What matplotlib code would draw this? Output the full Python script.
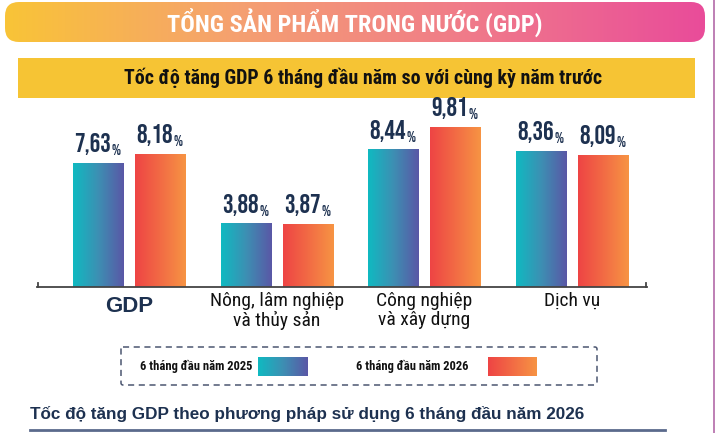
import numpy as np
import matplotlib
matplotlib.use("Agg")
import matplotlib.pyplot as plt
import matplotlib.patches as patches
import matplotlib.transforms as mtransforms
from matplotlib import font_manager as fm
from matplotlib.colors import LinearSegmentedColormap

# data
categories = ["GDP", "Nông, lâm nghiệp\nvà thủy sản", "Công nghiệp\nvà xây dựng", "Dịch vụ"]
growth_2025 = [7.63, 3.88, 8.44, 8.36]
growth_2026 = [8.18, 3.87, 9.81, 8.09]
series_names = ["6 tháng đầu năm 2025", "6 tháng đầu năm 2026"]

title = "TỔNG SẢN PHẨM TRONG NƯỚC (GDP)"
subtitle = "Tốc độ tăng GDP 6 tháng đầu năm so với cùng kỳ năm trước"
footer = "Tốc độ tăng GDP theo phương pháp sử dụng 6 tháng đầu năm 2026"

installed = {f.name for f in fm.fontManager.ttflist}


def pick(*names):
    found = [n for n in names if n in installed]
    return found + ["DejaVu Sans"]


NARROW_B = pick("Arial Narrow", "Liberation Sans Narrow", "Roboto Condensed",
                "IBM Plex Sans Condensed", "Liberation Sans")
NARROW = pick("Arial Narrow", "Liberation Sans Narrow", "Roboto Condensed",
              "Archivo Narrow", "IBM Plex Sans Condensed", "Liberation Sans")
DIGITS = pick("Bebas Neue", "Oswald", "Anton", "Roboto Condensed", "IBM Plex Sans Condensed")
ARIAL = pick("Liberation Sans", "Arimo")
NAVY = "#1d3150"

cmap_2025 = LinearSegmentedColormap.from_list("c25", ["#0fbac1", "#3d8fb3", "#5a57a6"])
cmap_2026 = LinearSegmentedColormap.from_list("c26", ["#ee4444", "#f26b45", "#f79443"])
cmap_banner = LinearSegmentedColormap.from_list("ban", ["#f9c437", "#f5a071", "#f07a8a", "#e94c9a"])
grad = np.linspace(0, 1, 256).reshape(1, -1)

W, H = 720, 433
fig = plt.figure(figsize=(W / 100, H / 100), dpi=100)
fig.patch.set_facecolor("white")

# background / decoration layer in pixel coords
bg = fig.add_axes([0, 0, 1, 1])
bg.axis("off")

banner = patches.FancyBboxPatch((5, 2), 700, 40, boxstyle="round,pad=0,rounding_size=14",
                                linewidth=0, facecolor="none")
bg.add_patch(banner)
im = bg.imshow(grad, cmap=cmap_banner, extent=(5, 705, 42, 2), aspect="auto", zorder=1)
im.set_clip_path(banner)
bg.text(355, 23, title, color="white", fontsize=17.5, fontweight="bold", family=NARROW_B,
        ha="center", va="center", zorder=3)

bg.add_patch(patches.Rectangle((18, 58), 677, 40, facecolor="#f6c434", edgecolor="none", zorder=1))
bg.text(363, 78, subtitle, color="#111111", fontsize=14.3, fontweight="bold", family=NARROW_B,
        ha="center", va="center", zorder=3)

bg.plot([714, 714], [0, H], color="#b36aa8", lw=1.2)

# legend box
bg.add_patch(patches.FancyBboxPatch((121, 347), 476, 38, boxstyle="round,pad=0,rounding_size=2",
                                    facecolor="none", edgecolor="#4b5670", lw=1.1,
                                    linestyle=(0, (4, 3))))
bg.text(140, 366.5, series_names[0], fontsize=9, fontweight="bold", family=NARROW_B,
        color="#111111", ha="left", va="center")
bg.imshow(grad, cmap=cmap_2025, extent=(258, 308, 376, 357), aspect="auto")
bg.text(356, 366.5, series_names[1], fontsize=9, fontweight="bold", family=NARROW_B,
        color="#111111", ha="left", va="center")
bg.imshow(grad, cmap=cmap_2026, extent=(488, 537, 376, 357), aspect="auto")

bg.text(30, 414, footer, fontsize=12.3, fontweight="bold", family=ARIAL, color=NAVY,
        ha="left", va="center")
bg.plot([30, 665], [430, 430], color="#5b6a8c", lw=2)
bg.set_xlim(0, W)
bg.set_ylim(H, 0)

# chart axes
y0 = 287
ppu = 16.25
ymax = 10.5
ax = fig.add_axes([37 / W, 1 - y0 / H, 610 / W, ymax * ppu / H])
ax.patch.set_alpha(0)

x = np.arange(len(categories))
bw = 0.34
off = 0.21
for vals, cm, sign in [(growth_2025, cmap_2025, -1), (growth_2026, cmap_2026, 1)]:
    bars = ax.bar(x + sign * off, vals, bw, color="none", edgecolor="none")
    for b, v in zip(bars, vals):
        bx, bw_ = b.get_x(), b.get_width()
        ax.imshow(grad, cmap=cm, extent=(bx, bx + bw_, 0, v), aspect="auto", zorder=2)
        num = ax.annotate(f"{v:.2f}".replace(".", ","), xy=(bx + bw_ / 2, v),
                          xytext=(-4, 6), textcoords="offset points",
                          fontsize=19, fontweight="bold", family=DIGITS, color=NAVY,
                          ha="center", va="bottom", zorder=3)
        ax.annotate("%", xy=(1, 0), xycoords=num, xytext=(0.5, 0),
                    textcoords="offset points", fontsize=11, fontweight="bold",
                    family=DIGITS, color=NAVY, ha="left", va="bottom", zorder=3)

ax.set_xlim(-0.625, 3.51)
ax.set_ylim(0, ymax)
for s in ["top", "right", "left"]:
    ax.spines[s].set_visible(False)
ax.spines["bottom"].set_color("#444444")
ax.spines["bottom"].set_linewidth(1.3)
ax.set_yticks([])
ax.set_xticks([])
tr = mtransforms.blended_transform_factory(ax.transAxes, ax.transData)
ax.plot([0.001, 0.001], [0, 0.25], color="#444444", lw=1.3, transform=tr, clip_on=False)
ax.plot([0.999, 0.999], [0, 0.25], color="#444444", lw=1.3, transform=tr, clip_on=False)

# category labels
for i, c in enumerate(categories):
    if i == 0:
        ax.text(i, -0.55, c, fontsize=16, fontweight="bold", family=ARIAL, color=NAVY,
                ha="center", va="top")
    else:
        ax.text(i, -0.3, c, fontsize=14, family=NARROW, color="#111111",
                ha="center", va="top", linespacing=1.05)

fig.savefig("out.png", dpi=100, facecolor="white")
